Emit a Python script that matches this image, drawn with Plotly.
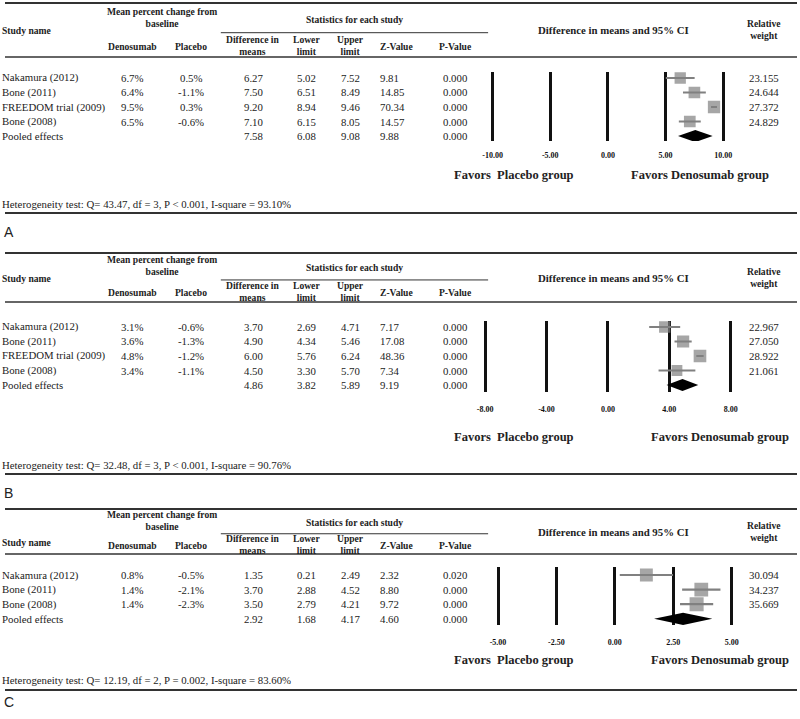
import plotly.graph_objects as go

W, H = 800, 719
SERIF = "Liberation Serif"
SANS = "Liberation Sans"
INK = "#222222"
GREY = "#808080"

# ---- Panel A ----
studies_a = ["Nakamura (2012)", "Bone (2011)", "FREEDOM trial (2009)", "Bone (2008)"]
deno_a = [6.7, 6.4, 9.5, 6.5]
plac_a = [0.5, -1.1, 0.3, -0.6]
diff_a = [6.27, 7.50, 9.20, 7.10, 7.58]
lower_a = [5.02, 6.51, 8.94, 6.15, 6.08]
upper_a = [7.52, 8.49, 9.46, 8.05, 9.08]
z_a = [9.81, 14.85, 70.34, 14.57, 9.88]
p_a = [0.000, 0.000, 0.000, 0.000, 0.000]
weight_a = [23.155, 24.644, 27.372, 24.829]
ticks_a = [-10, -5, 0, 5, 10]
het_a = "Heterogeneity test: Q= 43.47, df = 3, P < 0.001, I-square = 93.10%"

# ---- Panel B ----
studies_b = ["Nakamura (2012)", "Bone (2011)", "FREEDOM trial (2009)", "Bone (2008)"]
deno_b = [3.1, 3.6, 4.8, 3.4]
plac_b = [-0.6, -1.3, -1.2, -1.1]
diff_b = [3.70, 4.90, 6.00, 4.50, 4.86]
lower_b = [2.69, 4.34, 5.76, 3.30, 3.82]
upper_b = [4.71, 5.46, 6.24, 5.70, 5.89]
z_b = [7.17, 17.08, 48.36, 7.34, 9.19]
p_b = [0.000, 0.000, 0.000, 0.000, 0.000]
weight_b = [22.967, 27.050, 28.922, 21.061]
ticks_b = [-8, -4, 0, 4, 8]
het_b = "Heterogeneity test: Q= 32.48, df = 3, P < 0.001, I-square = 90.76%"

# ---- Panel C ----
studies_c = ["Nakamura (2012)", "Bone (2011)", "Bone (2008)"]
deno_c = [0.8, 1.4, 1.4]
plac_c = [-0.5, -2.1, -2.3]
diff_c = [1.35, 3.70, 3.50, 2.92]
lower_c = [0.21, 2.88, 2.79, 1.68]
upper_c = [2.49, 4.52, 4.21, 4.17]
z_c = [2.32, 8.80, 9.72, 4.60]
p_c = [0.020, 0.000, 0.000, 0.000]
weight_c = [30.094, 34.237, 35.669]
ticks_c = [-5, -2.5, 0, 2.5, 5]
het_c = "Heterogeneity test: Q= 12.19, df = 2, P = 0.002, I-square = 83.60%"

panels = [
    dict(name="A", studies=studies_a, deno=deno_a, plac=plac_a, diff=diff_a, lower=lower_a,
         upper=upper_a, z=z_a, p=p_a, weight=weight_a, ticks=ticks_a, het=het_a),
    dict(name="B", studies=studies_b, deno=deno_b, plac=plac_b, diff=diff_b, lower=lower_b,
         upper=upper_b, z=z_b, p=p_b, weight=weight_b, ticks=ticks_b, het=het_b),
    dict(name="C", studies=studies_c, deno=deno_c, plac=plac_c, diff=diff_c, lower=lower_c,
         upper=upper_c, z=z_c, p=p_c, weight=weight_c, ticks=ticks_c, het=het_c),
]

# pixel geometry of each panel
geom = [
    dict(top=3, hl=57, row0=78, step=14.5, vt=72, vb=141, fav=175, fav_r=702, het=204,
         het_line=213, letter=232, x0=609, ppu=11.65, study_f=0.5, standoff=8),
    dict(top=253, hl=302, row0=327, step=14.5, vt=321, vb=392, fav=437, fav_r=722, het=465,
         het_line=474, letter=493, x0=609, ppu=15.5, study_f=0.51, standoff=11),
    dict(top=509, hl=554, row0=575, step=14.6, vt=567, vb=625, fav=660, fav_r=722, het=680,
         het_line=690, letter=702, x0=616, ppu=23.6, study_f=0.73, standoff=11),
]

# column centres (px); left-aligned columns carry the annotation padding
COL_STUDY = -5
COL_DENO, COL_PLAC = 129, 188
COL_DIFF, COL_LOW, COL_UP = 251, 305, 349
COL_Z, COL_P, COL_W = 377, 455, 767


def px(x):
    return x / W


def py(y):
    return 1 - y / H


fig = go.Figure()
annotations = []
shapes = []


def text(x, y, s, anchor="center", size=10.8, bold=False, family=SERIF, color=INK):
    if bold:
        s = "<b>" + s.replace("<br>", "</b><br><b>") + "</b>"
    annotations.append(dict(x=px(x), y=py(y), xref="paper", yref="paper", text=s,
                            showarrow=False, xanchor=anchor, yanchor="middle",
                            font=dict(family=family, size=size, color=color)))


def hline(x1, x2, y, width):
    shapes.append(dict(type="line", xref="paper", yref="paper", x0=px(x1), x1=px(x2),
                       y0=py(y), y1=py(y), line=dict(color="#333333", width=width)))


for k, (pn, g) in enumerate(zip(panels, geom)):
    sfx = "" if k == 0 else str(k + 1)
    top, hl = g["top"], g["hl"]
    span = hl - top

    def hy(f):
        return top + f * span

    # header
    hline(0, 800, top, 2.2)
    hline(0, 800, hl, 1.4)
    hline(218, 488, hy(0.55), 1)
    text(COL_STUDY, hy(g["study_f"]) + 1, "Study name", anchor="left", size=9.6, bold=True)
    text((COL_DENO + COL_PLAC) / 2, hy(0.26), "Mean percent change from<br>baseline",
         size=9.6, bold=True)
    text(COL_DENO, hy(0.81), "Denosumab", size=9.6, bold=True)
    text(COL_PLAC, hy(0.81), "Placebo", size=9.6, bold=True)
    text(353, hy(0.3), "Statistics for each study", size=9.6, bold=True)
    text(COL_DIFF, hy(0.79), "Difference in<br>means", size=9.6, bold=True)
    text(COL_LOW, hy(0.79), "Lower<br>limit", size=9.6, bold=True)
    text(COL_UP, hy(0.79), "Upper<br>limit", size=9.6, bold=True)
    text(COL_Z, hy(0.81), "Z-Value", anchor="left", size=9.6, bold=True)
    text(COL_P, hy(0.81), "P-Value", size=9.6, bold=True)
    text(615, hy(0.5), "Difference in means and 95% CI", size=10.8, bold=True)
    text(COL_W, hy(0.5), "Relative<br>weight", size=9.6, bold=True)

    # table rows
    n = len(pn["studies"])
    names = pn["studies"] + ["Pooled effects"]
    for i in range(n + 1):
        y = g["row0"] + g["step"] * i
        text(COL_STUDY, y, names[i], anchor="left")
        if i < n:
            text(COL_DENO, y, f"{pn['deno'][i]:.1f}%")
            text(COL_PLAC, y, f"{pn['plac'][i]:.1f}%")
            text(COL_W, y, f"{pn['weight'][i]:.3f}")
        text(COL_DIFF, y, f"{pn['diff'][i]:.2f}")
        text(COL_LOW, y, f"{pn['lower'][i]:.2f}")
        text(COL_UP, y, f"{pn['upper'][i]:.2f}")
        text(COL_Z, y, f"{pn['z'][i]:.2f}", anchor="left")
        text(COL_P, y, f"{pn['p'][i]:.3f}")

    # forest plot axes
    r = max(pn["ticks"]) * 1.05
    x0, ppu = g["x0"], g["ppu"]
    y_lo = (g["vb"] - g["row0"]) / g["step"]
    y_hi = (g["vt"] - g["row0"]) / g["step"]
    fig.layout["xaxis" + sfx] = dict(
        domain=[px(x0 - ppu * r), px(x0 + ppu * r)], range=[-r, r], anchor="y" + sfx,
        tickvals=pn["ticks"], ticktext=[f"{t:.2f}" for t in pn["ticks"]],
        showgrid=True, gridcolor="#111111", gridwidth=2.6,
        zeroline=True, zerolinecolor="#111111", zerolinewidth=2.6,
        showline=False, ticks="", ticklabelstandoff=g["standoff"],
        tickfont=dict(family=SERIF, size=8, color="#111111", weight="bold"), fixedrange=True)
    fig.layout["yaxis" + sfx] = dict(
        domain=[py(g["vb"]), py(g["vt"])], range=[y_lo, y_hi], anchor="x" + sfx,
        showgrid=False, zeroline=False, showticklabels=False, showline=False, fixedrange=True)

    sizes = [2.35 * w ** 0.5 for w in pn["weight"]]
    fig.add_trace(go.Scatter(
        x=pn["diff"][:n], y=list(range(n)), mode="markers", xaxis="x" + sfx, yaxis="y" + sfx,
        marker=dict(symbol="square", size=sizes, color=GREY, line=dict(width=0)),
        error_x=dict(type="data", symmetric=False,
                     array=[u - d for u, d in zip(pn["upper"][:n], pn["diff"][:n])],
                     arrayminus=[d - l for d, l in zip(pn["diff"][:n], pn["lower"][:n])],
                     color=GREY, thickness=2.2, width=0),
        showlegend=False, hoverinfo="skip"))
    lo, d, up = pn["lower"][n], pn["diff"][n], pn["upper"][n]
    fig.add_trace(go.Scatter(
        x=[lo, d, up, d, lo], y=[n, n - 0.42, n, n + 0.42, n], mode="lines",
        xaxis="x" + sfx, yaxis="y" + sfx, fill="toself", fillcolor="#000000",
        line=dict(width=0, color="#000000"), showlegend=False, hoverinfo="skip"))

    text(514, g["fav"], "Favors  Placebo group", size=12.5, bold=True)
    text(g["fav_r"], g["fav"], "Favors Denosumab group", size=12.5, bold=True)
    text(COL_STUDY, g["het"], pn["het"], anchor="left")
    hline(0, 800, g["het_line"], 2.2)
    text(-3, g["letter"], pn["name"], anchor="left", size=14, family=SANS)

fig.update_layout(
    width=W, height=H, autosize=False, margin=dict(l=0, r=0, t=0, b=0),
    paper_bgcolor="white", plot_bgcolor="white",
    annotations=annotations, shapes=shapes,
)

# let the figure fill the window without the default page margin
fig.write_html("out.html", config={"displayModeBar": False},
               post_script="document.body.style.margin = '0';")
